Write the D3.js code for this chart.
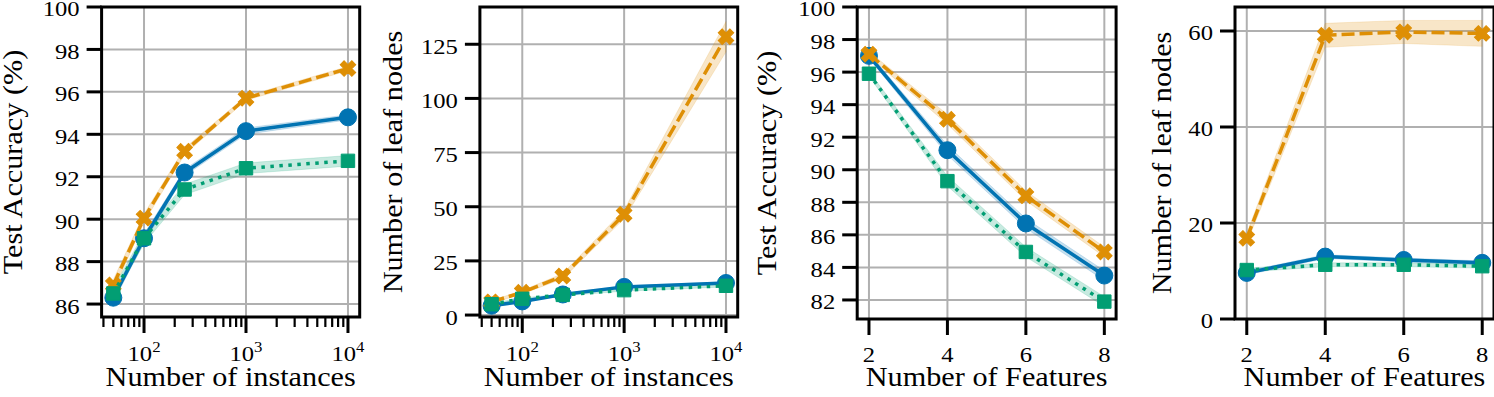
<!DOCTYPE html>
<html>
<head>
<meta charset="utf-8">
<script src="https://cdn.jsdelivr.net/npm/d3@7"></script>
<style>
  body { margin: 0; background: #fff; }
  svg { display: block; font-family: "Liberation Serif", "Times New Roman", serif; }
</style>
</head>
<body>
<svg id="chart" width="1494" height="397"></svg>
<script>
// x values
let instances = [50, 100, 250, 1000, 10000];
let features = [2, 4, 6, 8];

// accuracy vs number of instances
let accInstBlue = [86.3, 89.1, 92.2, 94.15, 94.8];
let accInstOrange = [86.9, 90.05, 93.2, 95.7, 97.1];
let accInstGreen = [86.5, 89.1, 91.4, 92.4, 92.75];
let accInstBlueErr = [0.2, 0.2, 0.15, 0.15, 0.12];
let accInstOrangeErr = [0.25, 0.2, 0.15, 0.1, 0.1];
let accInstGreenErr = [0.25, 0.25, 0.25, 0.25, 0.25];

// leaf nodes vs number of instances
let leafInstBlue = [4.3, 6.3, 9.5, 13.0, 14.8];
let leafInstOrange = [6.1, 10.5, 18.0, 46.5, 128.5];
let leafInstGreen = [5.0, 7.5, 9.3, 11.5, 13.5];
let leafInstBlueErr = [0.4, 0.4, 0.4, 0.5, 0.5];
let leafInstOrangeErr = [0.6, 0.8, 1.2, 2.0, 7.0];
let leafInstGreenErr = [0.4, 0.4, 0.4, 0.5, 0.5];

// accuracy vs number of features
let accFeatBlue = [97.0, 91.2, 86.7, 83.5];
let accFeatOrange = [97.1, 93.1, 88.4, 84.95];
let accFeatGreen = [95.9, 89.3, 84.95, 81.9];
let accFeatBlueErr = [0.15, 0.3, 0.3, 0.3];
let accFeatOrangeErr = [0.15, 0.3, 0.3, 0.3];
let accFeatGreenErr = [0.15, 0.3, 0.3, 0.3];

// leaf nodes vs number of features
let leafFeatBlue = [9.6, 13.0, 12.3, 11.7];
let leafFeatOrange = [16.8, 59.1, 59.8, 59.5];
let leafFeatGreen = [10.2, 11.3, 11.3, 11.0];
let leafFeatBlueErr = [0.4, 0.4, 0.4, 0.4];
let leafFeatOrangeErr = [1.0, 2.5, 2.4, 2.7];
let leafFeatGreenErr = [0.4, 0.4, 0.4, 0.4];

let blue = '#0173b2';
let orange = '#de8f05';
let green = '#029e73';

// the reference text is a bit wider than Times, so stretch it a little
let stretch = 1.12;

let svg = d3.select('#chart');

let makeSeries = (vals, errs, color, marker, dash) => {
  return { vals: vals, errs: errs, color: color, marker: marker, dash: dash };
};

let panels = [
  {
    left: 101.6, right: 359.7, top: 7, bottom: 317,
    log: true, xDomain: [Math.pow(10, 1.584), Math.pow(10, 4.115)], xs: instances,
    yDomain: [85.39, 100], yTicks: d3.range(86, 101, 2),
    ylabel: 'Test Accuracy (%)', ylabelX: 22, xlabel: 'Number of instances',
    series: [
      makeSeries(accInstBlue, accInstBlueErr, blue, 'circle', null),
      makeSeries(accInstOrange, accInstOrangeErr, orange, 'x', '13,5'),
      makeSeries(accInstGreen, accInstGreenErr, green, 'square', '3.5,5.5')
    ]
  },
  {
    left: 479.9, right: 737.7, top: 7, bottom: 317,
    log: true, xDomain: [Math.pow(10, 1.584), Math.pow(10, 4.115)], xs: instances,
    yDomain: [-0.9, 142.2], yTicks: d3.range(0, 126, 25),
    ylabel: 'Number of leaf nodes', ylabelX: 402, xlabel: 'Number of instances',
    series: [
      makeSeries(leafInstBlue, leafInstBlueErr, blue, 'circle', null),
      makeSeries(leafInstOrange, leafInstOrangeErr, orange, 'x', '13,5'),
      makeSeries(leafInstGreen, leafInstGreenErr, green, 'square', '3.5,5.5')
    ]
  },
  {
    left: 857.2, right: 1116.1, top: 7, bottom: 319,
    log: false, xDomain: [1.7, 8.3], xs: features,
    yDomain: [80.83, 100], yTicks: d3.range(82, 101, 2),
    ylabel: 'Test Accuracy (%)', ylabelX: 776, xlabel: 'Number of Features',
    series: [
      makeSeries(accFeatBlue, accFeatBlueErr, blue, 'circle', null),
      makeSeries(accFeatOrange, accFeatOrangeErr, orange, 'x', '13,5'),
      makeSeries(accFeatGreen, accFeatGreenErr, green, 'square', '3.5,5.5')
    ]
  },
  {
    left: 1235, right: 1494, top: 7, bottom: 319,
    log: false, xDomain: [1.7, 8.3], xs: features,
    yDomain: [0, 65], yTicks: [0, 20, 40, 60],
    ylabel: 'Number of leaf nodes', ylabelX: 1171, xlabel: 'Number of Features',
    series: [
      makeSeries(leafFeatBlue, leafFeatBlueErr, blue, 'circle', null),
      makeSeries(leafFeatOrange, leafFeatOrangeErr, orange, 'x', '13,5'),
      makeSeries(leafFeatGreen, leafFeatGreenErr, green, 'square', '3.5,5.5')
    ]
  }
];

let symbolFor = (marker) => {
  if (marker === 'circle') return d3.symbol(d3.symbolCircle, 227)();
  if (marker === 'square') return d3.symbol(d3.symbolSquare, 180)();
  return d3.symbol(d3.symbolCross, 150)();
};

let place = (x, y, extra) => 'translate(' + x + ',' + y + ')' + (extra || '') + ' scale(' + stretch + ',1)';

let drawPanel = (p, i) => {
  let x = (p.log ? d3.scaleLog() : d3.scaleLinear()).domain(p.xDomain).range([p.left, p.right]);
  let y = d3.scaleLinear().domain(p.yDomain).range([p.bottom, p.top]);
  let g = svg.append('g');

  let clipId = 'clip' + i;
  g.append('clipPath').attr('id', clipId)
    .append('rect')
    .attr('x', p.left).attr('y', p.top)
    .attr('width', p.right - p.left).attr('height', p.bottom - p.top);

  let xTicks = p.log ? [100, 1000, 10000] : p.xs;

  // grid
  g.selectAll('.gx').data(xTicks).enter().append('line')
    .attr('x1', d => x(d)).attr('x2', d => x(d))
    .attr('y1', p.top).attr('y2', p.bottom)
    .attr('stroke', '#b0b0b0').attr('stroke-width', 2);
  g.selectAll('.gy').data(p.yTicks).enter().append('line')
    .attr('x1', p.left).attr('x2', p.right)
    .attr('y1', d => y(d)).attr('y2', d => y(d))
    .attr('stroke', '#b0b0b0').attr('stroke-width', 2);

  let plot = g.append('g').attr('clip-path', 'url(#' + clipId + ')');

  // bands first
  p.series.forEach(s => {
    let pts = p.xs.map((xv, k) => ({ x: xv, v: s.vals[k], e: s.errs[k] }));
    plot.append('path')
      .datum(pts)
      .attr('d', d3.area().x(d => x(d.x)).y0(d => y(d.v - d.e)).y1(d => y(d.v + d.e)))
      .attr('fill', s.color).attr('fill-opacity', 0.22)
      .attr('stroke', s.color).attr('stroke-opacity', 0.15).attr('stroke-width', 1);
  });

  // lines and markers
  p.series.forEach(s => {
    let pts = p.xs.map((xv, k) => ({ x: xv, v: s.vals[k] }));
    plot.append('path')
      .datum(pts)
      .attr('d', d3.line().x(d => x(d.x)).y(d => y(d.v)))
      .attr('fill', 'none')
      .attr('stroke', s.color)
      .attr('stroke-width', 3.5)
      .attr('stroke-dasharray', s.dash)
      .attr('stroke-linejoin', 'round');
    plot.selectAll(null).data(pts).enter().append('path')
      .attr('d', symbolFor(s.marker))
      .attr('transform', d => 'translate(' + x(d.x) + ',' + y(d.v) + ')' + (s.marker === 'x' ? ' rotate(45)' : ''))
      .attr('fill', s.color)
      .attr('stroke', s.color).attr('stroke-width', 1);
  });

  // spines
  g.append('rect')
    .attr('x', p.left).attr('y', p.top)
    .attr('width', p.right - p.left).attr('height', p.bottom - p.top)
    .attr('fill', 'none').attr('stroke', '#000').attr('stroke-width', 3);

  // y ticks
  g.selectAll('.ty').data(p.yTicks).enter().append('line')
    .attr('x1', p.left - 15).attr('x2', p.left)
    .attr('y1', d => y(d)).attr('y2', d => y(d))
    .attr('stroke', '#000').attr('stroke-width', 3);
  g.selectAll('.ly').data(p.yTicks).enter().append('text')
    .attr('transform', d => place(p.left - 22, y(d)))
    .attr('dy', '0.43em')
    .attr('text-anchor', 'end')
    .attr('font-size', 22)
    .text(d => d);

  // x ticks
  g.selectAll('.tx').data(xTicks).enter().append('line')
    .attr('x1', d => x(d)).attr('x2', d => x(d))
    .attr('y1', p.bottom).attr('y2', p.bottom + 16)
    .attr('stroke', '#000').attr('stroke-width', 3);

  if (p.log) {
    let minors = [];
    [10, 100, 1000].forEach(dec => {
      for (let m = 2; m <= 9; m++) minors.push(dec * m);
    });
    minors = minors.filter(v => v >= p.xDomain[0] && v <= p.xDomain[1]);
    g.selectAll('.mx').data(minors).enter().append('line')
      .attr('x1', d => x(d)).attr('x2', d => x(d))
      .attr('y1', p.bottom).attr('y2', p.bottom + 10)
      .attr('stroke', '#000').attr('stroke-width', 2.2);

    let labels = g.selectAll('.lx').data(xTicks).enter().append('text')
      .attr('transform', d => place(x(d), 361))
      .attr('text-anchor', 'middle')
      .attr('font-size', 22);
    labels.append('tspan').text('10');
    labels.append('tspan')
      .attr('font-size', 15).attr('dy', -9)
      .text(d => Math.round(Math.log10(d)));
  } else {
    g.selectAll('.lx').data(xTicks).enter().append('text')
      .attr('transform', d => place(x(d), 362))
      .attr('text-anchor', 'middle')
      .attr('font-size', 22)
      .text(d => d);
  }

  // axis labels
  g.append('text')
    .attr('transform', place((p.left + p.right) / 2, 386))
    .attr('text-anchor', 'middle')
    .attr('font-size', 27)
    .text(p.xlabel);
  g.append('text')
    .attr('transform', place(p.ylabelX, (p.top + p.bottom) / 2, ' rotate(-90)'))
    .attr('text-anchor', 'middle')
    .attr('font-size', 27)
    .text(p.ylabel);
};

panels.forEach(drawPanel);
</script>
</body>
</html>
